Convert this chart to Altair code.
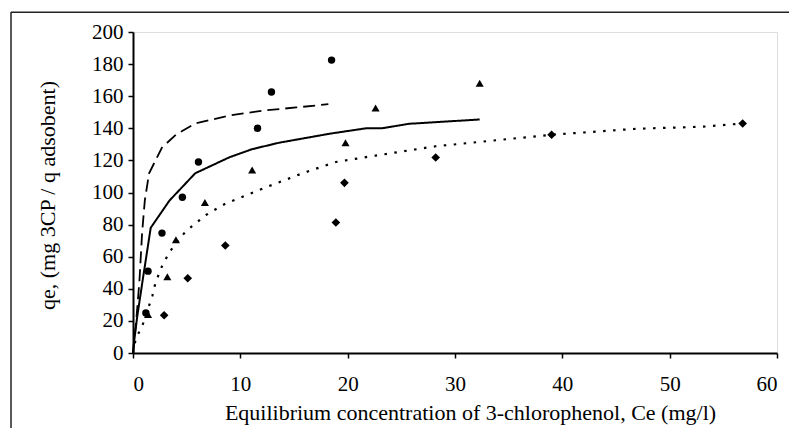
import altair as alt
import pandas as pd

circle_x = [1.2, 1.4, 2.7, 4.6, 6.1, 11.6, 12.9, 18.5]
circle_y = [25, 51, 74.7, 97, 119, 140, 162.6, 182.5]
triangle_x = [1.4, 3.2, 4.0, 6.7, 11.1, 19.8, 22.6, 32.3]
triangle_y = [24, 47.5, 70.6, 93.7, 114, 131, 152.7, 168]
diamond_x = [2.9, 5.1, 8.6, 18.9, 19.7, 28.2, 39.0, 56.8]
diamond_y = [23.5, 46.6, 67, 81.3, 106, 121.8, 136, 143]

# ---- model curves ----
dashed_x = [0, 0.3, 0.6, 0.85, 1.1, 1.5, 2.7, 4.0, 5.8, 9.0, 12.1, 15.2, 18.2]
dashed_y = [0, 20, 45, 75, 95, 112, 128, 136, 143, 148, 151, 153, 155]
solid_x = [0, 0.1, 0.4, 0.87, 1.65, 3.4, 5.8, 9.0, 11.1, 13.6, 18.3, 21.7, 23.2, 25.7, 32.3]
solid_y = [0, 7, 23, 44, 78, 95, 112, 122, 127, 131, 136.6, 140, 140, 142.8, 145.5]
dotted_x = [0, 0.25, 0.87, 1.8, 2.1, 2.7, 3.4, 4.9, 6.8, 8.6, 12.1, 15.8, 18.9, 22.6, 28.2, 39.0, 46.9, 53.1, 56.8]
dotted_y = [0, 8.7, 17, 35.5, 44, 54, 63, 75.7, 86, 93, 102.5, 112, 119, 123, 128.8, 136, 139.7, 141, 143]

x_ticks = [0, 10, 20, 30, 40, 50, 60]
y_ticks = [0, 20, 40, 60, 80, 100, 120, 140, 160, 180, 200]

pts = pd.DataFrame({
    "x": circle_x + triangle_x + diamond_x,
    "y": circle_y + triangle_y + diamond_y,
    "s": ["c"] * len(circle_x) + ["t"] * len(triangle_x) + ["d"] * len(diamond_x),
})

FONT = "Liberation Serif"
xs = alt.Scale(domain=[0, 60], nice=False, zero=False)
ys = alt.Scale(domain=[0, 200], nice=False, zero=False)

xax = alt.Axis(values=x_ticks, grid=False, labelFont=FONT, labelFontSize=21,
               labelColor="black", tickSize=5, tickColor="black", tickWidth=1.5,
               domainColor="black", domainWidth=2, labelPadding=15, labelOverlap=False,
               title="Equilibrium concentration of 3-chlorophenol, Ce (mg/l)",
               titleFont=FONT, titleFontSize=22, titleFontWeight="normal",
               titleColor="black", titleX=337, titleY=59, titleBaseline="middle")
yax = alt.Axis(values=y_ticks, grid=False, labelFont=FONT, labelFontSize=21,
               labelColor="black", tickSize=5, tickColor="black", tickWidth=1.5,
               domainColor="black", domainWidth=2, labelPadding=5, labelOverlap=False,
               title="qe, (mg 3CP / q adsobent)",
               titleFont=FONT, titleFontSize=22, titleFontWeight="normal",
               titleColor="black", titleX=-86, titleY=163, titleBaseline="middle")

def curve(xv, yv, dash, width):
    df = pd.DataFrame({"x": xv, "y": yv})
    return alt.Chart(df).mark_line(color="black", strokeWidth=width,
                                   strokeDash=dash).encode(
        x=alt.X("x:Q", scale=xs, axis=xax), y=alt.Y("y:Q", scale=ys, axis=yax))

dashed = curve(dashed_x, dashed_y, [12, 6], 1.8)
solid = curve(solid_x, solid_y, [1, 0], 2)
dotted = curve(dotted_x, dotted_y, [2.5, 7.5], 2.2)

points = alt.Chart(pts).mark_point(filled=True, opacity=1, color="black").encode(
    x=alt.X("x:Q", scale=xs, axis=xax),
    y=alt.Y("y:Q", scale=ys, axis=yax),
    shape=alt.Shape("s:N", scale=alt.Scale(domain=["c", "t", "d"],
                                           range=["circle", "triangle-up", "diamond"]),
                    legend=None),
    size=alt.Size("s:N", scale=alt.Scale(domain=["c", "t", "d"], range=[55, 75, 70]),
                  legend=None),
)

one = pd.DataFrame({"a": [0]})
frame_left = alt.Chart(one).mark_rule(color="#222222", strokeWidth=1.5, clip=False).encode(
    x=alt.value(-122), y=alt.value(-20), y2=alt.value(600))
frame_top = alt.Chart(one).mark_rect(color="#222222", clip=False).encode(
    x=alt.value(-122), x2=alt.value(700), y=alt.value(-20.5), y2=alt.value(-19))

chart = alt.layer(dashed, solid, dotted, points, frame_left, frame_top).properties(
    width=644, height=321,
    padding={"left": 125, "top": 24, "right": 12, "bottom": 75},
    autosize=alt.AutoSizeParams(type="none"),
).configure_view(stroke="black", strokeWidth=1.5
).configure_axis(labelOverlap=False).configure(background="white")

chart.save("out.html", embed_options={"renderer": "svg", "actions": False})
